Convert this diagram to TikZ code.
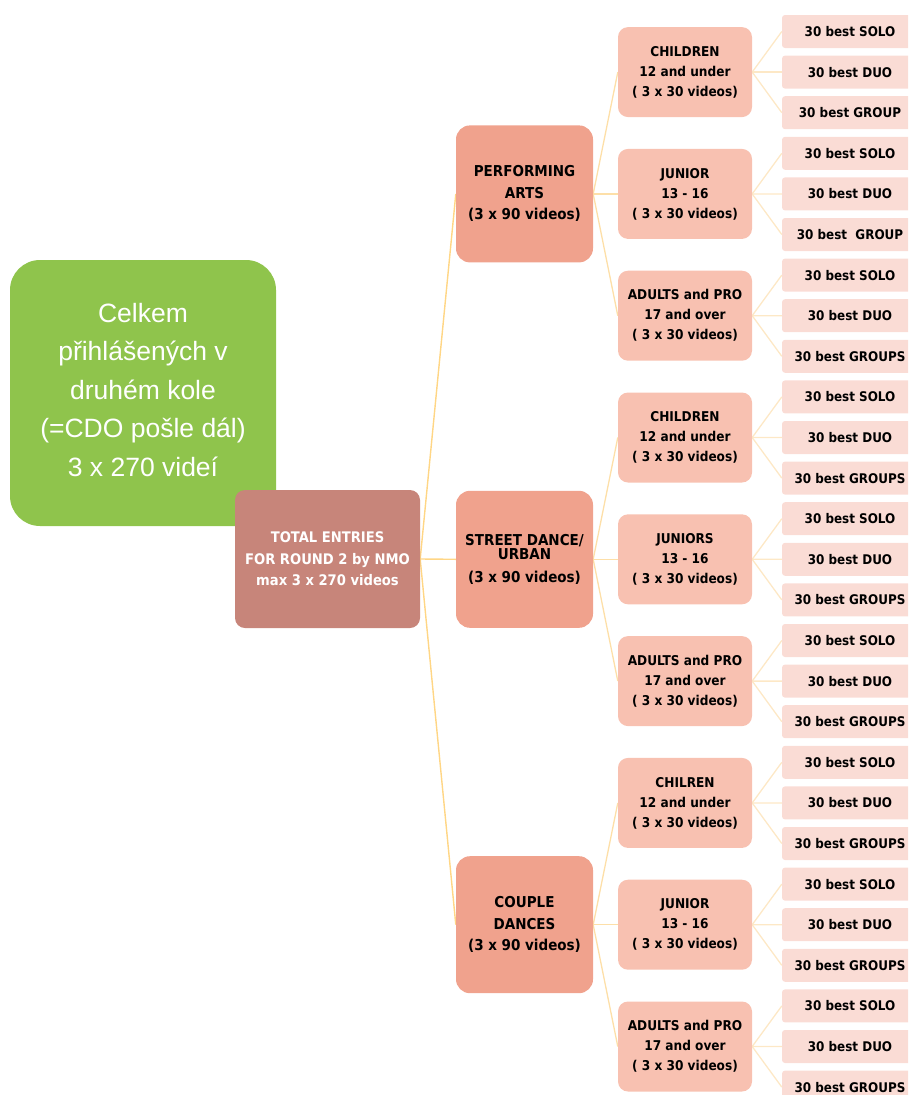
\documentclass[tikz,border=0pt]{standalone}
\usepackage{fontspec}
\usetikzlibrary{backgrounds}
\newfontfamily\lblfont{DejaVu Sans Condensed}[BoldFont={DejaVu Sans Condensed Bold}]
\newfontfamily\greenfont{Liberation Sans}
\definecolor{cgreen}{HTML}{8FC44C}
\definecolor{ctotal}{HTML}{C7857A}
\definecolor{ccat}{HTML}{F0A28D}
\definecolor{cage}{HTML}{F8C1B1}
\definecolor{cleaf}{HTML}{FADCD5}
\definecolor{lineA}{HTML}{FFD685}
\definecolor{lineB}{HTML}{FDDFA8}
\definecolor{lineC}{HTML}{FDE8C6}
\tikzset{
  gbox/.style={fill=cgreen, rounded corners=30pt, minimum width=266pt, minimum height=266pt,
    inner sep=0pt, align=center, text=white, font=\greenfont\fontsize{26.5}{38.5}\selectfont},
  tbox/.style={fill=ctotal, rounded corners=10pt, minimum width=185pt, minimum height=138pt,
    inner sep=0pt, align=center, text=white, font=\lblfont\bfseries\fontsize{14.6}{21.5}\selectfont},
  cbox/.style={fill=ccat, rounded corners=14pt, minimum width=137pt, minimum height=137pt,
    inner sep=0pt, align=center, text=black, font=\lblfont\bfseries\fontsize{15}{21.5}\selectfont},
  abox/.style={fill=cage, rounded corners=10pt, minimum width=134pt, minimum height=90pt,
    inner sep=0pt, align=center, text=black, font=\lblfont\bfseries\fontsize{13.5}{20}\selectfont},
  lbox/.style={fill=cleaf, rounded corners=3pt, minimum width=136pt, minimum height=33pt,
    inner sep=0pt, align=center, text=black, font=\lblfont\bfseries\fontsize{13.3}{16}\selectfont},
  connA/.style={draw=lineA, line width=1.4pt},
  connB/.style={draw=lineB, line width=1.3pt},
  connC/.style={draw=lineC, line width=1.3pt},
}
\begin{document}
\begin{tikzpicture}[x=1pt,y=-1pt]
\useasboundingbox (0,0) rectangle (908,1095);
\clip (0,0) rectangle (908,1095);

\node[gbox] (green) at (143,393) {};
\node[text=white, align=center, inner sep=0pt, font=\greenfont\fontsize{26.5}{38.5}\selectfont] (gtext) at (143,390) {Celkem\\přihlášených v\\druhém kole\\(=CDO pošle dál)\\3 x 270 videí};
\node[tbox] (total) at (327.5,559) {TOTAL ENTRIES\\FOR ROUND 2 by NMO\\max 3 x 270 videos};

\node[cbox] (c0) at (524.5,193.9) {PERFORMING\\ARTS\\(3 x 90 videos)};
\node[cbox] (c1) at (524.5,559.3) {STREET DANCE/\\[-7pt]URBAN\\[1pt](3 x 90 videos)};
\node[cbox] (c2) at (524.5,924.7) {COUPLE\\DANCES\\(3 x 90 videos)};

\node[abox] (a0) at (685,72.1) {CHILDREN\\12 and under\\( 3 x 30 videos)};
\node[abox] (a1) at (685,193.9) {JUNIOR\\13 - 16\\( 3 x 30 videos)};
\node[abox] (a2) at (685,315.7) {ADULTS and PRO\\17 and over\\( 3 x 30 videos)};
\node[abox] (a3) at (685,437.5) {CHILDREN\\12 and under\\( 3 x 30 videos)};
\node[abox] (a4) at (685,559.3) {JUNIORS\\13 - 16\\( 3 x 30 videos)};
\node[abox] (a5) at (685,681.1) {ADULTS and PRO\\17 and over\\( 3 x 30 videos)};
\node[abox] (a6) at (685,802.9) {CHILREN\\12 and under\\( 3 x 30 videos)};
\node[abox] (a7) at (685,924.7) {JUNIOR\\13 - 16\\( 3 x 30 videos)};
\node[abox] (a8) at (685,1046.5) {ADULTS and PRO\\17 and over\\( 3 x 30 videos)};

\foreach \i/\t in {0/SOLO,1/DUO,2/GROUP,3/SOLO,4/DUO,5/{\ GROUP},6/SOLO,7/DUO,8/GROUPS,
  9/SOLO,10/DUO,11/GROUPS,12/SOLO,13/DUO,14/GROUPS,15/SOLO,16/DUO,17/GROUPS,
  18/SOLO,19/DUO,20/GROUPS,21/SOLO,22/DUO,23/GROUPS,24/SOLO,25/DUO,26/GROUPS}{
  \node[lbox] (l\i) at (850,{31.5+40.6*\i}) {30 best \t};
}

\begin{scope}[on background layer]
  \foreach \k in {0,1,2}{ \draw[connA] (total.east) -- (c\k.west); }
  \foreach \a in {0,...,8}{
    \pgfmathtruncatemacro{\c}{int(\a/3)}
    \draw[connB] (c\c.east) -- (a\a.west);
  }
  \foreach \i in {0,...,26}{
    \pgfmathtruncatemacro{\a}{int(\i/3)}
    \draw[connC] (a\a.east) -- (l\i.west);
  }
\end{scope}
\end{tikzpicture}
\end{document}
